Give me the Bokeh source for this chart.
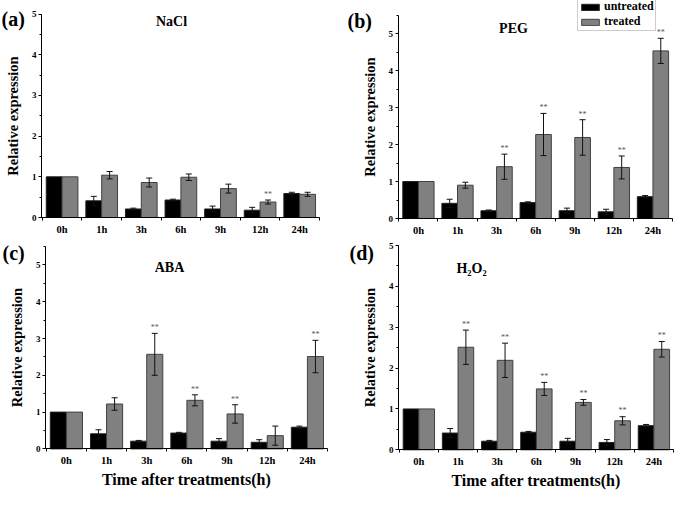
import numpy as np
from bokeh.plotting import figure
from bokeh.models import (ColumnDataSource, Whisker, TeeHead, FixedTicker, SingleIntervalTicker,
                          Range1d, Label, Legend, LegendItem)
from bokeh.core.properties import value
from bokeh.layouts import row, column
from bokeh.embed import file_html
from bokeh.resources import INLINE

# ---------------- data ----------------
times = ["0h", "1h", "3h", "6h", "9h", "12h", "24h"]

untreated = [1.0, 0.41, 0.21, 0.43, 0.21, 0.18, 0.59]
untreated_err = [0.0, 0.11, 0.02, 0.02, 0.07, 0.07, 0.03]

nacl = [1.0, 1.04, 0.86, 0.99, 0.71, 0.38, 0.57]
nacl_err = [0.0, 0.09, 0.11, 0.08, 0.11, 0.05, 0.05]
nacl_sig = [0, 0, 0, 0, 0, 1, 0]

peg = [1.0, 0.90, 1.40, 2.27, 2.19, 1.38, 4.53]
peg_err = [0.0, 0.08, 0.34, 0.57, 0.48, 0.31, 0.34]
peg_sig = [0, 0, 1, 1, 1, 1, 1]

aba = [1.0, 1.22, 2.57, 1.32, 0.95, 0.36, 2.51]
aba_err = [0.0, 0.17, 0.57, 0.15, 0.25, 0.26, 0.44]
aba_sig = [0, 0, 1, 1, 1, 0, 1]

h2o2 = [1.0, 2.51, 2.19, 1.49, 1.16, 0.71, 2.46]
h2o2_err = [0.0, 0.42, 0.42, 0.16, 0.07, 0.10, 0.19]
h2o2_sig = [0, 1, 1, 1, 1, 1, 1]

FONT = "Liberation Serif"
X0, X1 = -0.52, 6.5   # axis extent in category units


def make_panel(letter, title, treated, treated_err, sig, ymax, W, H,
               box, title_pos, letter_pos, xlabel=None, legend_pos=None):
    # box: pixel positions of axis frame (left, right, top, bottom) inside the figure
    left, right, top, bottom = box
    sx = (right - left) / (X1 - X0)
    sy = (bottom - top) / ymax
    xr = Range1d(X0 - left / sx, X1 + (W - right) / sx)
    yr = Range1d(-(H - bottom) / sy, ymax + top / sy)
    p = figure(width=W, height=H, output_backend="svg", toolbar_location=None,
               x_range=xr, y_range=yr,
               min_border_left=0, min_border_right=0, min_border_top=0, min_border_bottom=0)
    p.outline_line_color = None
    p.grid.visible = False
    p.background_fill_color = "white"
    p.border_fill_color = "white"

    idx = np.arange(len(times))
    u = np.array(untreated)
    ue = np.array(untreated_err)
    tr = np.array(treated)
    te = np.array(treated_err)

    src = ColumnDataSource(dict(xu=idx - 0.2, xt=idx + 0.2, u=u, t=tr))
    ru = p.vbar(x="xu", top="u", width=0.4, bottom=0, source=src,
                fill_color="#000000", line_color="#222222", line_width=1)
    rt = p.vbar(x="xt", top="t", width=0.4, bottom=0, source=src,
                fill_color="#808080", line_color="#404040", line_width=1)

    # error bars
    mu = ue > 0
    su = ColumnDataSource(dict(x=(idx - 0.2)[mu], up=(u + ue)[mu], lo=(u - ue)[mu]))
    mt = te > 0
    st = ColumnDataSource(dict(x=(idx + 0.2)[mt], up=(tr + te)[mt], lo=(tr - te)[mt]))
    for s in (su, st):
        w = Whisker(base="x", upper="up", lower="lo", source=s, level="overlay",
                    line_color="#111111", line_width=1,
                    upper_head=TeeHead(size=6, line_width=1, line_color="#111111"),
                    lower_head=TeeHead(size=6, line_width=1, line_color="#111111"))
        p.add_layout(w)

    # significance marks
    ms = np.array(sig) > 0
    ss = ColumnDataSource(dict(x=(idx + 0.2)[ms], y=(tr + te)[ms] + 0.03,
                               txt=["**"] * int(ms.sum())))
    p.text(x="x", y="y", text="txt", source=ss, text_font=value(FONT),
           text_font_size="8px", text_align="center", text_baseline="bottom",
           text_color="#555555")

    # axes (drawn at fixed positions inside the canvas)
    p.yaxis.fixed_location = X0
    p.yaxis.bounds = (0, ymax)
    p.yaxis.ticker = SingleIntervalTicker(interval=1, num_minor_ticks=2)
    p.yaxis.major_tick_in = 0
    p.yaxis.major_tick_out = 3
    p.yaxis.minor_tick_in = 0
    p.yaxis.minor_tick_out = 2
    p.yaxis.major_label_standoff = 2
    p.yaxis.axis_label = "Relative expression"
    p.yaxis.axis_label_text_font = FONT
    p.yaxis.axis_label_text_font_style = "bold"
    p.yaxis.axis_label_text_font_size = "14.5px"
    p.yaxis.axis_label_text_color = "black"
    p.yaxis.axis_label_standoff = 8
    p.yaxis.major_label_text_font = FONT
    p.yaxis.major_label_text_font_style = "bold"
    p.yaxis.major_label_text_font_size = "9px"
    p.yaxis.major_label_text_color = "black"

    p.xaxis.fixed_location = 0
    p.xaxis.bounds = (X0, X1)
    p.xaxis.ticker = FixedTicker(ticks=[float(i) for i in idx],
                                 minor_ticks=[float(i) - 0.5 for i in range(len(times) + 1)])
    p.xaxis.major_label_overrides = {int(i): times[i] for i in idx}
    p.xaxis.major_tick_in = 0
    p.xaxis.major_tick_out = 3
    p.xaxis.major_tick_line_color = None
    p.xaxis.minor_tick_in = 0
    p.xaxis.minor_tick_out = 3
    p.xaxis.major_label_standoff = 3
    p.xaxis.major_label_text_font = FONT
    p.xaxis.major_label_text_font_style = "bold"
    p.xaxis.major_label_text_font_size = "10.5px"
    p.xaxis.major_label_text_color = "black"
    if xlabel:
        p.xaxis.axis_label = xlabel
        p.xaxis.axis_label_text_font = FONT
        p.xaxis.axis_label_text_font_style = "bold"
        p.xaxis.axis_label_text_font_size = "16px"
        p.xaxis.axis_label_text_color = "black"
        p.xaxis.axis_label_standoff = 2
    for ax in (p.xaxis, p.yaxis):
        ax.axis_line_color = "black"
        ax.major_tick_line_width = 1
        ax.minor_tick_line_color = "black"

    # panel title and letter (screen units from top-left converted to bottom-left)
    p.add_layout(Label(x=title_pos[0], y=H - title_pos[1], x_units="screen", y_units="screen",
                       text=title, text_font=FONT, text_font_style="bold",
                       text_font_size="14px", text_align="center", text_baseline="middle",
                       text_color="black"))
    p.add_layout(Label(x=letter_pos[0], y=H - letter_pos[1], x_units="screen", y_units="screen",
                       text=letter, text_font=FONT, text_font_style="bold",
                       text_font_size="20px", text_align="left", text_baseline="middle",
                       text_color="black"))

    if legend_pos is not None:
        lg = Legend(items=[LegendItem(label="untreated", renderers=[ru]),
                           LegendItem(label="treated", renderers=[rt])],
                    location=(legend_pos[0], H - legend_pos[1] - 30), orientation="vertical",
                    label_text_font=FONT, label_text_font_style="bold",
                    label_text_font_size="12px", label_text_color="black",
                    glyph_width=22, glyph_height=8, label_height=13, label_standoff=3,
                    spacing=0, padding=1, margin=0,
                    border_line_color="#999999", border_line_width=1,
                    background_fill_color="white", background_fill_alpha=1.0)
        p.add_layout(lg)
    return p


pa = make_panel("(a)", "NaCl", nacl, nacl_err, nacl_sig, 5.0, 337, 242,
                (41, 319, 13.6, 217), (171, 21), (1, 18))
pb = make_panel("(b)", "PEG", peg, peg_err, peg_sig, 5.5, 337, 242,
                (60.6, 335, 14.5, 218), (176, 28), (10, 20), legend_pos=(240, 1))
pc = make_panel("(c)", "ABA", aba, aba_err, aba_sig, 5.5, 337, 248,
                (45, 327, 4, 206.4), (169, 25), (2, 10), xlabel="Time after treatments(h)")
pd = make_panel("(d)", "H₂O₂", h2o2, h2o2_err, h2o2_sig, 5.0, 337, 248,
                (61, 336, 3, 207.3), (134, 26), (12, 10), xlabel="Time after treatments(h)")

layout = column(row(pa, pb), row(pc, pd))

open("out.html", "w").write(file_html(layout, INLINE))
